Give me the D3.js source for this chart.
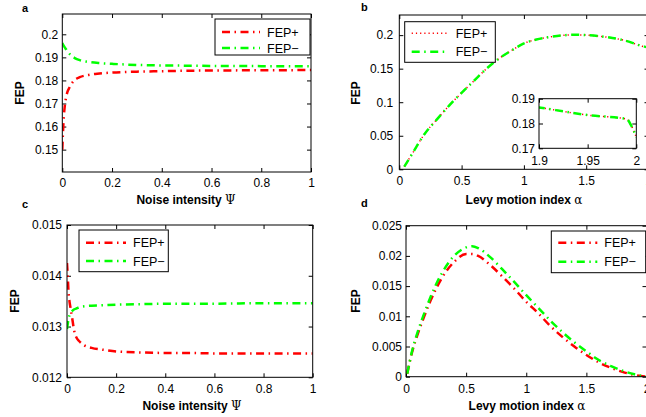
<!DOCTYPE html>
<html lang="en">
<head>
    <meta charset="UTF-8">
    <title>FEP panels</title>
    <style>
        body { margin: 0; background: #fff; }
        svg { display: block; font-family: "Liberation Sans", Arial, sans-serif; }
        .tick text { font-size: 12px; fill: #000; }
        .tick line { stroke: #000; }
    </style>
</head>
<body>
    <div id="graphic"></div>

    <script src="https://cdn.jsdelivr.net/npm/d3@7"></script>
    <script>
        // ---- data ----
        // panel a : FEP vs noise intensity (first quantity)
        var psiA = [0, 0.003, 0.006, 0.01, 0.015, 0.02, 0.03, 0.04, 0.05, 0.07, 0.1, 0.15, 0.2, 0.3, 0.4, 0.5, 0.6, 0.8, 1];
        var fepPlusA = [0.150, 0.158, 0.164, 0.169, 0.1725, 0.1748, 0.1772, 0.1790, 0.1802, 0.1814, 0.1823, 0.1830, 0.1834, 0.1838, 0.1840, 0.1842, 0.1843, 0.1844, 0.1845];
        var fepMinusA = [0.1962, 0.1955, 0.1950, 0.1943, 0.1935, 0.1927, 0.1914, 0.1904, 0.1897, 0.1888, 0.1881, 0.1875, 0.1872, 0.1867, 0.1865, 0.1864, 0.1863, 0.1862, 0.1861];

        // panel b : FEP vs Levy index (curves coincide)
        var alphaB = [0.04, 0.1, 0.2, 0.3, 0.4, 0.5, 0.6, 0.7, 0.8, 0.9, 1.0, 1.1, 1.2, 1.3, 1.4, 1.5, 1.6, 1.7, 1.8, 1.9, 1.95, 1.99, 1.995, 2.0];
        var fepPlusB = [0.004, 0.022, 0.052, 0.074, 0.095, 0.114, 0.132, 0.150, 0.165, 0.177, 0.1876, 0.1935, 0.197, 0.1995, 0.2005, 0.2, 0.1985, 0.196, 0.1925, 0.1865, 0.1834, 0.1818, 0.179, 0.1745];
        var fepMinusB = [0.004, 0.022, 0.052, 0.074, 0.095, 0.114, 0.132, 0.150, 0.165, 0.177, 0.1876, 0.1935, 0.197, 0.1995, 0.2005, 0.2, 0.1985, 0.196, 0.1925, 0.1865, 0.1834, 0.1818, 0.179, 0.1745];

        // panel c : FEP vs noise intensity (second quantity)
        var psiC = [0, 0.003, 0.006, 0.01, 0.015, 0.02, 0.03, 0.04, 0.05, 0.07, 0.1, 0.15, 0.2, 0.3, 0.4, 0.5, 0.6, 0.8, 1];
        var fepPlusC = [0.01425, 0.0140, 0.0137, 0.01350, 0.01335, 0.01320, 0.01290, 0.01277, 0.01271, 0.01263, 0.01258, 0.01254, 0.01251, 0.01249, 0.01248, 0.01248, 0.01247, 0.01247, 0.01247];
        var fepMinusC = [0.01295, 0.01305, 0.01315, 0.01322, 0.01327, 0.01330, 0.01334, 0.01336, 0.01338, 0.01340, 0.01341, 0.01342, 0.01343, 0.01344, 0.01345, 0.01345, 0.01345, 0.01346, 0.01346];

        // panel d : FEP vs Levy index (second quantity)
        var alphaD = [0.01, 0.05, 0.1, 0.15, 0.2, 0.3, 0.4, 0.5, 0.55, 0.6, 0.7, 0.8, 0.9, 1.0, 1.1, 1.2, 1.3, 1.4, 1.5, 1.6, 1.7, 1.8, 1.9, 2.0];
        var fepPlusD = [0.0005, 0.0040, 0.0072, 0.0099, 0.0124, 0.0164, 0.0190, 0.0203, 0.0203, 0.0200, 0.0185, 0.0166, 0.0146, 0.0124, 0.0105, 0.0084, 0.0066, 0.0050, 0.0036, 0.0024, 0.0015, 0.0008, 0.0003, 0.0];
        var fepMinusD = [0.0005, 0.0042, 0.0076, 0.0104, 0.0130, 0.0172, 0.0200, 0.0214, 0.0216, 0.0213, 0.0198, 0.0178, 0.0157, 0.0135, 0.0114, 0.0093, 0.0074, 0.0057, 0.0042, 0.0028, 0.0018, 0.0010, 0.0004, 0.0];

        // tick labels
        var xTicksPsi = [0, 0.2, 0.4, 0.6, 0.8, 1];
        var xTicksAlpha = [0, 0.5, 1, 1.5, 2];
        var yTicksA = [0.15, 0.16, 0.17, 0.18, 0.19, 0.2];
        var yTicksB = [0, 0.05, 0.1, 0.15, 0.2];
        var yTicksC = [0.012, 0.013, 0.014, 0.015];
        var yTicksD = [0, 0.005, 0.01, 0.015, 0.02, 0.025];
        var xTicksInset = [1.9, 1.95, 2];
        var yTicksInset = [0.17, 0.18, 0.19];

        var seriesNames = ['FEP+', 'FEP\u2212'];

        var width = 646;
        var height = 417;

        var svg = d3.select('#graphic')
            .append('svg')
            .attr('width', width)
            .attr('height', height);

        var dashDot = '8,4.5,1.5,4.5';
        var dotted = '1.2,3';

        function zip(xs, ys) {
            return xs.map(function(v, i) { return [v, ys[i]]; });
        }

        function drawPanel(p) {
            var x = d3.scaleLinear().domain(p.xDomain).range([p.left, p.right]);
            var y = d3.scaleLinear().domain(p.yDomain).range([p.bottom, p.top]);
            var g = svg.append('g');

            if (p.whiteFill) {
                g.append('rect')
                    .attr('x', p.left).attr('y', p.top)
                    .attr('width', p.right - p.left).attr('height', p.bottom - p.top)
                    .attr('fill', '#fff');
            }

            svg.append('clipPath').attr('id', 'clip-' + p.name)
                .append('rect')
                .attr('x', p.left).attr('y', p.top)
                .attr('width', p.right - p.left).attr('height', p.bottom - p.top);

            // ticks on all four sides, pointing inward
            g.append('g').attr('transform', 'translate(0,' + p.bottom + ')')
                .call(d3.axisBottom(x).tickValues(p.xTicks).tickSize(-4).tickPadding(p.xPad)
                    .tickFormat(function(d) { return d; }))
                .call(function(s) { s.select('.domain').remove(); });
            g.append('g').attr('transform', 'translate(0,' + p.top + ')')
                .call(d3.axisTop(x).tickValues(p.xTicks).tickSize(-4).tickFormat(''))
                .call(function(s) { s.select('.domain').remove(); });
            g.append('g').attr('transform', 'translate(' + p.left + ',0)')
                .call(d3.axisLeft(y).tickValues(p.yTicks).tickSize(-4).tickPadding(p.yPad)
                    .tickFormat(function(d) { return d; }))
                .call(function(s) { s.select('.domain').remove(); });
            g.append('g').attr('transform', 'translate(' + p.right + ',0)')
                .call(d3.axisRight(y).tickValues(p.yTicks).tickSize(-4).tickFormat(''))
                .call(function(s) { s.select('.domain').remove(); });

            g.selectAll('.tick text').attr('font-family', null).attr('font-size', null);

            // curves
            var line = d3.line()
                .x(function(d) { return x(d[0]); })
                .y(function(d) { return y(d[1]); })
                .curve(d3.curveMonotoneX);

            g.append('g').attr('clip-path', 'url(#clip-' + p.name + ')')
                .selectAll('path')
                .data(p.series)
                .join('path')
                .attr('d', function(s) { return line(s.points); })
                .attr('fill', 'none')
                .attr('stroke', function(s) { return s.color; })
                .attr('stroke-width', function(s) { return s.width; })
                .attr('stroke-dasharray', function(s) { return s.dash; });

            g.append('rect')
                .attr('x', p.left).attr('y', p.top)
                .attr('width', p.right - p.left).attr('height', p.bottom - p.top)
                .attr('fill', 'none').attr('stroke', '#000').attr('stroke-width', 1);

            if (p.xLabel) {
                var xl = g.append('text')
                    .attr('x', p.xLabelPos[0]).attr('y', p.xLabelPos[1])
                    .attr('text-anchor', 'middle')
                    .attr('font-size', 12).attr('font-weight', 'bold');
                xl.append('tspan').text(p.xLabel);
                xl.append('tspan').attr('font-weight', 'normal').attr('font-family', 'DejaVu Serif')
                    .attr('font-size', 12).text(p.xSymbol);

                g.append('text')
                    .attr('transform', 'translate(' + p.yLabelPos[0] + ',' + p.yLabelPos[1] + ') rotate(-90)')
                    .attr('text-anchor', 'middle')
                    .attr('font-size', 12).attr('font-weight', 'bold')
                    .text('FEP');
            }

            if (p.letter) {
                g.append('text')
                    .attr('x', p.letterPos[0]).attr('y', p.letterPos[1])
                    .attr('font-size', 11).attr('font-weight', 'bold')
                    .text(p.letter);
            }

            if (p.legend) {
                var L = p.legend;
                var lg = g.append('g');
                lg.append('rect')
                    .attr('x', L.x).attr('y', L.y).attr('width', L.w).attr('height', L.h)
                    .attr('fill', '#fff').attr('stroke', '#000').attr('stroke-width', 1);
                lg.selectAll('.entry')
                    .data(p.series)
                    .join('g')
                    .attr('class', 'entry')
                    .each(function(s, i) {
                        var e = d3.select(this);
                        var cy = L.y + L.rows[i];
                        e.append('line')
                            .attr('x1', L.x + 7).attr('x2', L.x + 7 + L.sample)
                            .attr('y1', cy).attr('y2', cy)
                            .attr('stroke', s.color).attr('stroke-width', s.width)
                            .attr('stroke-dasharray', s.dash);
                        e.append('text')
                            .attr('x', L.x + 7 + L.sample + 7).attr('y', cy + 4.5)
                            .attr('font-size', 12.5)
                            .text(s.name);
                    });
            }
        }

        // a
        drawPanel({
            name: 'a', left: 62.3, right: 311, top: 14, bottom: 172,
            xDomain: [0, 1], yDomain: [0.1403, 0.2088],
            xTicks: xTicksPsi, yTicks: yTicksA, xPad: 6, yPad: 4,
            xLabel: 'Noise intensity ', xSymbol: '\u03A8', xLabelPos: [186, 204], yLabelPos: [24, 93],
            letter: 'a', letterPos: [22, 12],
            series: [
                { name: seriesNames[0], points: zip(psiA, fepPlusA), color: '#ff0000', width: 2.5, dash: dashDot },
                { name: seriesNames[1], points: zip(psiA, fepMinusA), color: '#00ff00', width: 2.5, dash: dashDot }
            ],
            legend: { x: 215, y: 19, w: 95, h: 36, rows: [13, 29], sample: 38 }
        });

        // b
        drawPanel({
            name: 'b', left: 399.3, right: 648.5, top: 15, bottom: 169.3,
            xDomain: [0, 2], yDomain: [0, 0.23],
            xTicks: xTicksAlpha, yTicks: yTicksB, xPad: 7.5, yPad: 6,
            xLabel: 'Levy motion index ', xSymbol: '\u03B1', xLabelPos: [524, 204], yLabelPos: [360, 93],
            letter: 'b', letterPos: [361, 11],
            series: [
                { name: seriesNames[0], points: zip(alphaB, fepPlusB), color: '#ff0000', width: 1.5, dash: dotted },
                { name: seriesNames[1], points: zip(alphaB, fepMinusB), color: '#00ff00', width: 2.5, dash: dashDot }
            ],
            legend: { x: 404.7, y: 21.7, w: 90.6, h: 40.6, rows: [11.6, 30], sample: 37 }
        });

        // b inset (zoom near alpha = 2)
        drawPanel({
            name: 'binset', left: 539, right: 636.3, top: 98.7, bottom: 148.3, whiteFill: true,
            xDomain: [1.9, 2], yDomain: [0.17, 0.19],
            xTicks: xTicksInset, yTicks: yTicksInset, xPad: 8, yPad: 4,
            series: [
                { name: seriesNames[0], points: zip(alphaB, fepPlusB), color: '#ff0000', width: 1.5, dash: dotted },
                { name: seriesNames[1], points: zip(alphaB, fepMinusB), color: '#00ff00', width: 2.5, dash: dashDot }
            ]
        });

        // c
        drawPanel({
            name: 'c', left: 67, right: 312.7, top: 225, bottom: 377.3,
            xDomain: [0, 1], yDomain: [0.012, 0.015],
            xTicks: xTicksPsi, yTicks: yTicksC, xPad: 7.5, yPad: 5,
            xLabel: 'Noise intensity ', xSymbol: '\u03A8', xLabelPos: [192, 410], yLabelPos: [19, 301],
            letter: 'c', letterPos: [22, 208],
            series: [
                { name: seriesNames[0], points: zip(psiC, fepPlusC), color: '#ff0000', width: 2.5, dash: dashDot },
                { name: seriesNames[1], points: zip(psiC, fepMinusC), color: '#00ff00', width: 2.5, dash: dashDot }
            ],
            legend: { x: 79, y: 230, w: 89.3, h: 41.7, rows: [12.7, 31], sample: 40 }
        });

        // d
        drawPanel({
            name: 'd', left: 406, right: 646.5, top: 225.7, bottom: 376.7,
            xDomain: [0, 2], yDomain: [0, 0.025],
            xTicks: xTicksAlpha, yTicks: yTicksD, xPad: 7.5, yPad: 4,
            xLabel: 'Levy motion index ', xSymbol: '\u03B1', xLabelPos: [527, 410], yLabelPos: [360, 301],
            letter: 'd', letterPos: [361, 207],
            series: [
                { name: seriesNames[0], points: zip(alphaD, fepPlusD), color: '#ff0000', width: 2.5, dash: dashDot },
                { name: seriesNames[1], points: zip(alphaD, fepMinusD), color: '#00ff00', width: 2.5, dash: dashDot }
            ],
            legend: { x: 551.3, y: 231, w: 94.4, h: 41.7, rows: [11.7, 30.7], sample: 39 }
        });
    </script>
</body>
</html>
